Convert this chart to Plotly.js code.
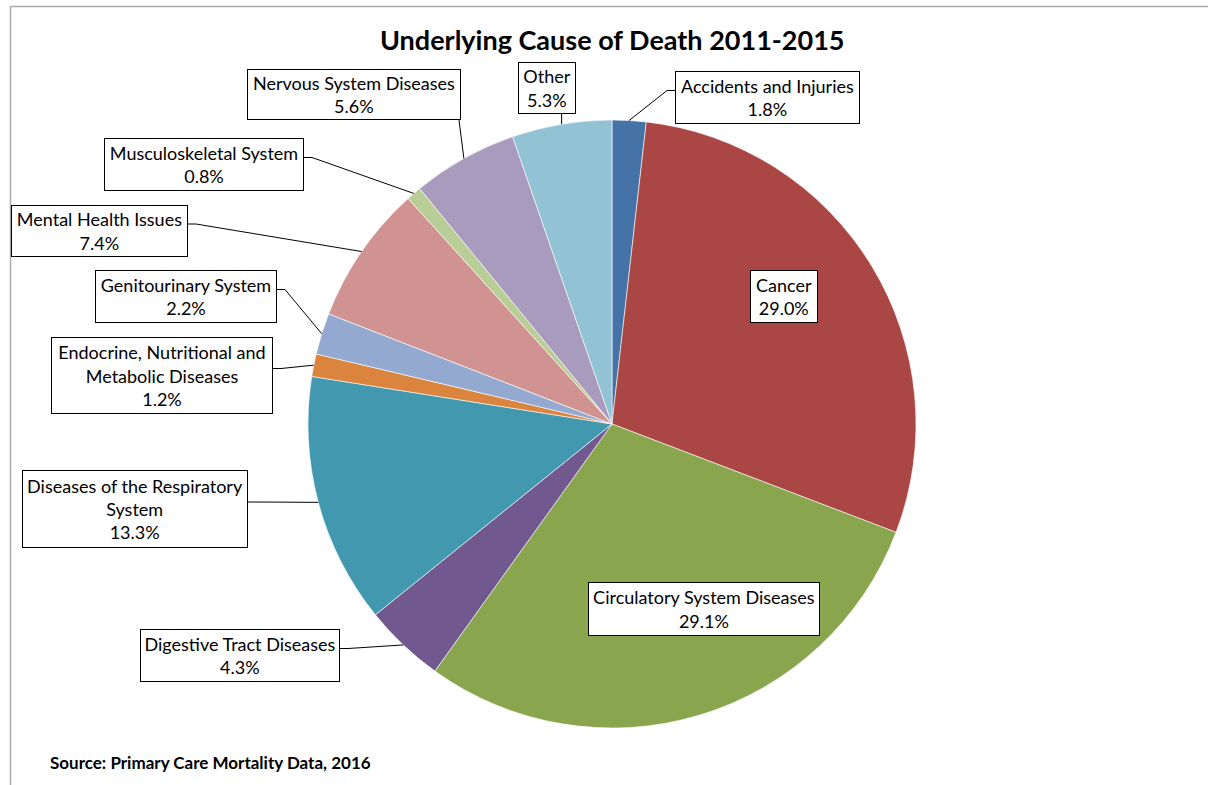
<!DOCTYPE html>
<html>
<head>
<meta charset="utf-8">
<script src="https://cdn.plot.ly/plotly-3.0.1.min.js"></script>
<style>
  html, body { margin: 0; padding: 0; background: #fff; }
  #chart { width: 1208px; height: 785px; }
</style>
</head>
<body>
<div id="chart"></div>
<script>
// ---------------- DATA ----------------
const categories = [
  "Accidents and Injuries",
  "Cancer",
  "Circulatory System Diseases",
  "Digestive Tract Diseases",
  "Diseases of the Respiratory System",
  "Endocrine, Nutritional and Metabolic Diseases",
  "Genitourinary System",
  "Mental Health Issues",
  "Musculoskeletal System",
  "Nervous System Diseases",
  "Other"
];
const values = [1.8, 29.0, 29.1, 4.3, 13.3, 1.2, 2.2, 7.4, 0.8, 5.6, 5.3];
const labelNames = [
  "Accidents and Injuries",
  "Cancer",
  "Circulatory System Diseases",
  "Digestive Tract Diseases",
  "Diseases of the Respiratory<br>System",
  "Endocrine, Nutritional and<br>Metabolic Diseases",
  "Genitourinary System",
  "Mental Health Issues",
  "Musculoskeletal System",
  "Nervous System Diseases",
  "Other"
];
const titleText = "Underlying Cause of Death 2011-2015";
const sourceText = "Source: Primary Care Mortality Data, 2016";

// ---------------- STYLE / LAYOUT ----------------
const colors = ["#4572A7", "#AA4643", "#89A54E", "#71588F", "#4198AF",
                "#DB843D", "#93A9CF", "#D19392", "#B9CD96", "#A99BBD", "#92C3D5"];
const W = 1208, H = 785;
const CX = 612, CY = 424, R = 304;           // pie centre / radius in pixels
const FONT = "Lato, 'Open Sans', sans-serif";
// label boxes [left, top, right, bottom] in pixels and leader attach side
const labelBoxes = [
  [675, 71, 860, 124],
  [750, 270, 818, 323],
  [588, 582, 820, 636],
  [140, 629, 340, 682],
  [22, 470, 248, 548],
  [51, 337, 273, 414],
  [95, 270, 277, 323],
  [11, 205, 188, 257],
  [104, 138, 304, 191],
  [247, 69, 461, 120],
  [518, 62, 576, 114]
];
const leaderSide = ["left", null, null, "right", "right", "right", "right", "right", "right", "bottom", "bottom"];

const px = x => x / W;
const py = y => 1 - y / H;

const total = values.reduce((a, b) => a + b, 0);
let cum = 0;
const midPoints = values.map(v => {
  const mid = (cum + v / 2) / total;
  cum += v;
  const ang = mid * 2 * Math.PI; // clockwise from 12 o'clock
  return [CX + R * Math.sin(ang), CY - R * Math.cos(ang)];
});

const annotations = [];
const shapes = [];

values.forEach((v, i) => {
  const [l, t, r, b] = labelBoxes[i];
  annotations.push({
    xref: "paper", yref: "paper",
    x: px((l + r) / 2), y: py((t + b) / 2),
    xanchor: "center", yanchor: "middle",
    text: labelNames[i] + "<br>" + v.toFixed(1) + "%",
    showarrow: false,
    width: r - l - 2, height: b - t - 2,
    bgcolor: "#ffffff", bordercolor: "#000000", borderwidth: 1, borderpad: 0,
    font: { family: FONT, size: 18, color: "#000000" },
    align: "center", valign: "middle"
  });
  const side = leaderSide[i];
  if (!side) return;
  const [mx, my] = midPoints[i];
  let pts;
  const cy = (t + b) / 2 - 7;
  if (side === "right") pts = [[r, cy], [r + 8, cy], [mx, my]];
  else if (side === "left") pts = [[l, cy], [l - 8, cy], [mx, my]];
  else {
    const ax = Math.min(Math.max(mx, l + 2), r - 2);
    pts = [[ax, b], [mx, my]];
  }
  const path = pts.map((p, k) => (k ? "L" : "M") + px(p[0]) + "," + py(p[1])).join(" ");
  shapes.push({ type: "path", xref: "paper", yref: "paper", path: path,
                line: { color: "#000000", width: 1 }, layer: "above" });
});

// chart frame
shapes.push({ type: "line", xref: "paper", yref: "paper",
  x0: px(10.5), y0: py(6.5), x1: px(10.5), y1: 0, line: { color: "#ababab", width: 1.5 } });
shapes.push({ type: "line", xref: "paper", yref: "paper",
  x0: px(10.5), y0: py(6.5), x1: 1, y1: py(6.5), line: { color: "#ababab", width: 1.5 } });

annotations.push({
  xref: "paper", yref: "paper", x: px(612), y: py(40),
  xanchor: "center", yanchor: "middle", showarrow: false,
  text: "<b>" + titleText + "</b>",
  font: { family: FONT, size: 27, color: "#000000" }
});
annotations.push({
  xref: "paper", yref: "paper", x: px(48), y: py(762),
  xanchor: "left", yanchor: "middle", showarrow: false,
  text: "<b>" + sourceText + "</b>",
  font: { family: FONT, size: 17, color: "#000000" }
});

const trace = {
  type: "pie",
  labels: categories,
  values: values,
  sort: false,
  direction: "clockwise",
  rotation: 0,
  textinfo: "none",
  hoverinfo: "skip",
  marker: { colors: colors, line: { color: "#ffffff", width: 0.6 } },
  domain: { x: [px(CX - R), px(CX + R)], y: [py(CY + R), py(CY - R)] },
  showlegend: false
};

const layout = {
  width: W, height: H,
  margin: { l: 0, r: 0, t: 0, b: 0 },
  paper_bgcolor: "#ffffff",
  showlegend: false,
  annotations: annotations,
  shapes: shapes,
  font: { family: FONT }
};

Plotly.newPlot("chart", [trace], layout, { displayModeBar: false, staticPlot: true });
</script>
</body>
</html>
